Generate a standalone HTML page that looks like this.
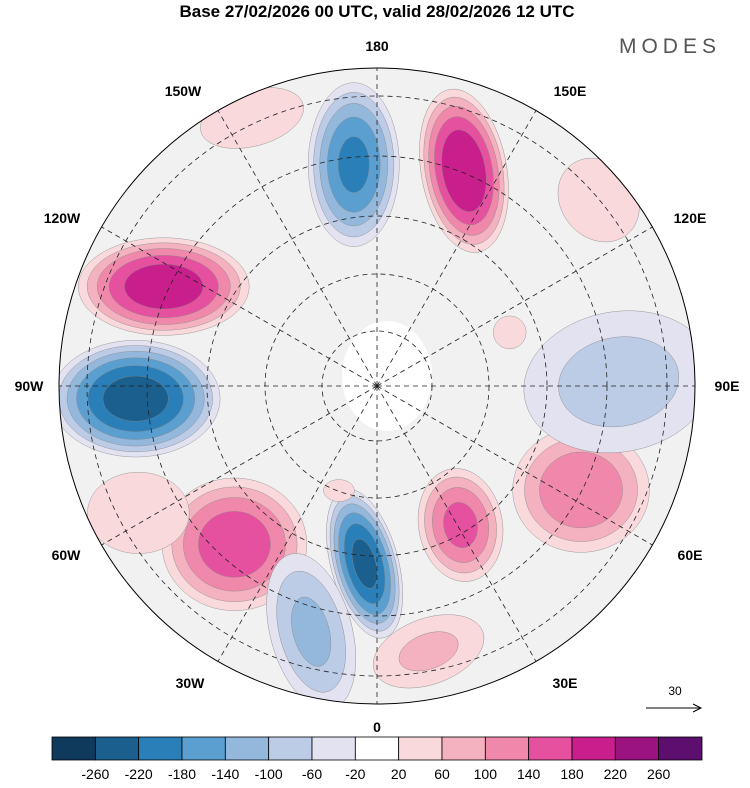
<!DOCTYPE html>
<html><head><meta charset="utf-8"><style>
body{margin:0;background:#fff;width:750px;height:783px;overflow:hidden;font-family:"Liberation Sans",sans-serif}
</style></head><body>
<svg id="c" width="750" height="783" viewBox="0 0 750 783" xmlns="http://www.w3.org/2000/svg">
<text x="377" y="17" text-anchor="middle" font-size="17" font-weight="bold">Base 27/02/2026 00 UTC, valid 28/02/2026 12 UTC</text>
<text x="670" y="53" text-anchor="middle" font-size="21" fill="#555" letter-spacing="5">MODES</text>
<defs><clipPath id="cc"><circle cx="377" cy="386" r="318"/></clipPath></defs>
<g id="map" clip-path="url(#cc)"></g>
<circle cx="377" cy="386" r="318" fill="none" stroke="#000" stroke-width="1"/>
<g id="labels" font-size="14" font-weight="bold" text-anchor="middle"></g>
<g id="cbar"></g>
<text x="675" y="695" font-size="12" text-anchor="middle">30</text>
<line x1="646" y1="708" x2="700" y2="708" stroke="#000"/>
<path d="M693,704 L701,708 L693,712" fill="none" stroke="#000"/>
</svg>
<script>
const levels=[-260,-220,-180,-140,-100,-60,-20,20,60,100,140,180,220,260];
const colors=["#0f3a5c","#1a5f8e","#2a7fb8","#5a9fcf","#93b8dc","#bccbe6","#e3e2f0","#ffffff","#f9d9dc","#f4b1bf","#ef88ab","#e5519e","#c91f8c","#9a137f","#5c0f6e"];
// anomaly centres: longitude (deg, E positive), radius fraction, value
const blobLon=[-174,158,-115,-87,-42,-4,31,63,91,-15,11,112,-155,-62,130,-20];
const blobR=[0.70,0.73,0.74,0.76,0.67,0.56,0.51,0.72,0.76,0.80,0.85,0.45,0.93,0.85,0.91,0.35];
const blobVal=[-185,215,205,-235,165,-225,150,135,-80,-110,70,40,40,50,40,35];
const blobW=[30,28,56,55,48,22,28,46,68,28,42,14,45,40,32,14];
const blobH=[54,54,32,38,44,50,38,42,50,55,24,14,24,32,38,10];
const blobRot=[0,-10,0,0,0,-15,-10,0,-10,-15,-20,0,-15,0,-40,0];
const cx=377,cy=386,R=318,NS="http://www.w3.org/2000/svg";
function px(lon,f){const a=lon*Math.PI/180;return [cx+R*f*Math.sin(a),cy+R*f*Math.cos(a)];}
function colorFor(v){let i=0;while(i<levels.length&&v>levels[i])i++;return colors[i];}
const map=document.getElementById('map');
function mk(tag,attrs,parent){const e=document.createElementNS(NS,tag);for(const k in attrs)e.setAttribute(k,attrs[k]);parent.appendChild(e);return e;}
const bg=mk('circle',{cx:cx,cy:cy,r:R,fill:'#f1f1f1'},map);


const pole=mk('ellipse',{cx:cx+10,cy:cy-10,rx:45,ry:55,fill:'#fff'},map);


blobLon.forEach((lon,i)=>{
  const v=blobVal[i];const [x,y]=px(lon,blobR[i]);
  const th=levels.filter(l=>v>0?(l>20&&l<v):(l<-20&&l>v));
  if(v<0)th.reverse();
  const steps=[v>0?20:-20].concat(th);
  steps.forEach(l=>{
    const s=Math.sqrt(1-Math.abs(l)/Math.abs(v)*0.92)*1.6;
    const e=mk('ellipse',{cx:x,cy:y,rx:blobW[i]*s,ry:blobH[i]*s,fill:colorFor(v>0?l+1:l-1),stroke:'#888','stroke-width':0.4,transform:`rotate(${blobRot[i]} ${x} ${y})`},map);
    
    
  });
});
[55,112,170,230,290].forEach(r=>{const c=mk('circle',{cx:cx,cy:cy,r:r,fill:'none',stroke:'#222','stroke-width':0.8,'stroke-dasharray':'5,4'},map);

});
for(let lon=0;lon<360;lon+=30){const [x,y]=px(lon,1);const l=mk('line',{x1:cx,y1:cy,x2:x,y2:y,stroke:'#222','stroke-width':0.8,'stroke-dasharray':'5,4'},map);

}
const lbl=[["180",377,51],["150E",570,96],["120E",690,223],["90E",727,391],["60E",690,560],["30E",565,688],["0",377,732],["30W",190,688],["60W",66,560],["90W",29,391],["120W",62,223],["150W",183,96]];
const lg=document.getElementById('labels');
lbl.forEach(a=>{const t=mk('text',{x:a[1],y:a[2]},lg);t.textContent=a[0];

});
const cb=document.getElementById('cbar');const x0=52,w=650/colors.length;
colors.forEach((c,i)=>{const r=mk('rect',{x:x0+i*w,y:737,width:w,height:23,fill:c,stroke:'#000','stroke-width':0.8},cb);

});
levels.forEach((l,i)=>{const t=mk('text',{x:x0+(i+1)*w,y:779,'font-size':14,'text-anchor':'middle'},cb);t.textContent=l;

});
</script>
</body></html>
